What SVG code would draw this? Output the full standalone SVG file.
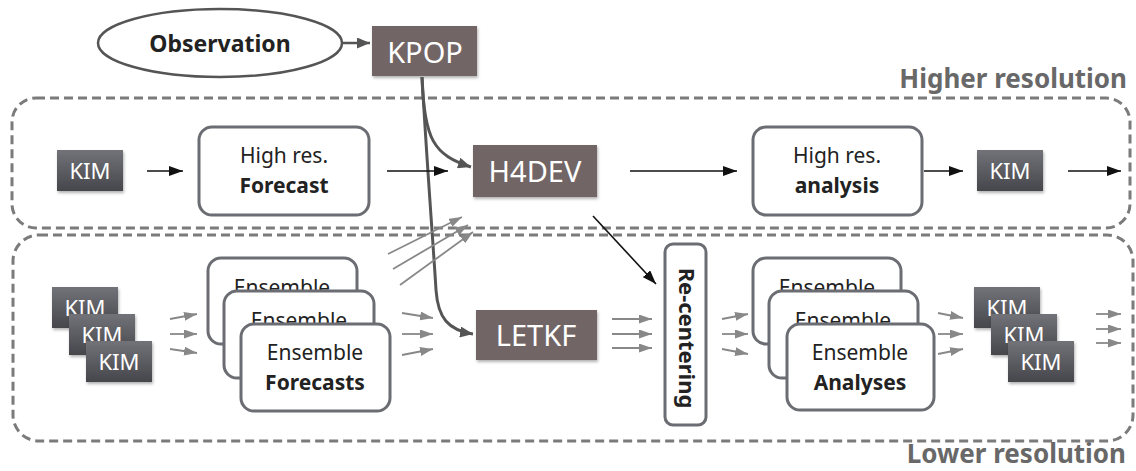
<svg xmlns="http://www.w3.org/2000/svg" width="1136" height="471" viewBox="0 0 1136 471">
<defs>
<style>
text{font-family:"Noto Sans","Open Sans","Liberation Sans",sans-serif;fill:#222;}
.b{font-weight:bold;}
.zone{fill:none;stroke:#7b7b7b;stroke-width:3;stroke-dasharray:9 5;}
.zl{font-size:26px;font-weight:bold;fill:#686868;text-anchor:end;}
.kim{fill:url(#kimg);filter:url(#sh);}
.kimt{font-size:22px;fill:#fff;text-anchor:middle;}
.brown{fill:#726565;filter:url(#sh);}
.brt{font-size:29px;fill:#fff;text-anchor:middle;}
.box{fill:#fff;stroke:#6b6d73;stroke-width:3;}
.bt{font-size:21px;text-anchor:middle;}
.blk{stroke:#111;stroke-width:1.6;fill:none;marker-end:url(#ab);}
.gry{stroke:#888;stroke-width:1.8;fill:none;marker-end:url(#ag);}
.cur{stroke:#555;stroke-width:3;fill:none;marker-end:url(#ac);}
</style>
<linearGradient id="kimg" x1="0" y1="0" x2="0" y2="1">
<stop offset="0" stop-color="#727379"/>
<stop offset="1" stop-color="#45464b"/>
</linearGradient>
<filter id="sh" x="-20%" y="-20%" width="140%" height="150%">
<feDropShadow dx="1" dy="2" stdDeviation="1.5" flood-color="#000" flood-opacity="0.3"/>
</filter>
<marker id="ab" markerUnits="userSpaceOnUse" markerWidth="14" markerHeight="10" refX="14" refY="5" orient="auto">
<path d="M0,0 L14,5 L0,10 z" fill="#111"/>
</marker>
<marker id="ag" markerUnits="userSpaceOnUse" markerWidth="13" markerHeight="9" refX="13" refY="4.5" orient="auto">
<path d="M0,0 L13,4.5 L0,9 z" fill="#888"/>
</marker>
<marker id="ac" markerUnits="userSpaceOnUse" markerWidth="13" markerHeight="11" refX="13" refY="5.5" orient="auto">
<path d="M0,0 L13,5.5 L0,11 z" fill="#555"/>
</marker>
</defs>
<rect width="1136" height="471" fill="#fff"/>

<g id="zones">
<rect class="zone" x="12" y="98" width="1118" height="130" rx="24"/>
<rect class="zone" x="13" y="235" width="1120" height="206" rx="26"/>
<text class="zl" x="1127" y="88">Higher resolution</text>
<text class="zl" x="1126" y="463">Lower resolution</text>
</g>

<g id="observation">
<ellipse cx="220" cy="43" rx="122" ry="34" fill="#fff" stroke="#555" stroke-width="2.5"/>
<text class="b" x="220" y="52" font-size="23" text-anchor="middle">Observation</text>
</g>

<g id="kpop">
<rect class="brown" x="372" y="26" width="105" height="50"/>
<text class="brt" x="425" y="63">KPOP</text>
</g>

<g id="kim-high-1">
<rect class="kim" x="57" y="150" width="66" height="41"/>
<text class="kimt" x="90" y="179">KIM</text>
</g>

<g id="hr-forecast">
<rect class="box" x="199" y="127" width="170" height="88" rx="13"/>
<text class="bt" x="284" y="163">High res.</text>
<text class="bt b" x="284" y="193">Forecast</text>
</g>

<g id="h4dev">
<rect class="brown" x="473" y="145" width="124" height="52"/>
<text class="brt" x="535" y="182">H4DEV</text>
</g>

<g id="hr-analysis">
<rect class="box" x="753" y="127" width="169" height="88" rx="13"/>
<text class="bt" x="837" y="163">High res.</text>
<text class="bt b" x="837" y="193">analysis</text>
</g>

<g id="kim-high-2">
<rect class="kim" x="977" y="150" width="66" height="41"/>
<text class="kimt" x="1010" y="179">KIM</text>
</g>

<g id="kim-ens-1">
<rect class="kim" x="52" y="287" width="66" height="41"/>
<text class="kimt" x="85" y="316">KIM</text>
<rect class="kim" x="69" y="314" width="66" height="41"/>
<text class="kimt" x="102" y="343">KIM</text>
<rect class="kim" x="86" y="341" width="66" height="41"/>
<text class="kimt" x="119" y="370">KIM</text>
</g>

<g id="ens-forecasts">
<rect class="box" x="208" y="258" width="149" height="86" rx="13"/>
<text class="bt" x="282" y="295" font-size="22">Ensemble</text>
<rect class="box" x="224" y="291" width="150" height="87" rx="13"/>
<text class="bt" x="299" y="328" font-size="22">Ensemble</text>
<rect class="box" x="241" y="324" width="149" height="87" rx="13"/>
<text class="bt" x="315" y="360">Ensemble</text>
<text class="bt b" x="315" y="390">Forecasts</text>
</g>

<g id="letkf">
<rect class="brown" x="476" y="310" width="121" height="50"/>
<text class="brt" x="536" y="346">LETKF</text>
</g>

<g id="recentering">
<rect class="box" x="665" y="244" width="41" height="181" rx="8"/>
<text class="b" transform="translate(686,338) rotate(90)" x="0" y="7" font-size="22" text-anchor="middle">Re-centering</text>
</g>

<g id="ens-analyses">
<rect class="box" x="753" y="258" width="148" height="86" rx="13"/>
<text class="bt" x="827" y="295" font-size="22">Ensemble</text>
<rect class="box" x="769" y="291" width="149" height="87" rx="13"/>
<text class="bt" x="843" y="328" font-size="22">Ensemble</text>
<rect class="box" x="787" y="324" width="147" height="86" rx="13"/>
<text class="bt" x="860" y="360">Ensemble</text>
<text class="bt b" x="860" y="390">Analyses</text>
</g>

<g id="kim-ens-2">
<rect class="kim" x="974" y="287" width="66" height="41"/>
<text class="kimt" x="1007" y="316">KIM</text>
<rect class="kim" x="991" y="314" width="66" height="41"/>
<text class="kimt" x="1024" y="343">KIM</text>
<rect class="kim" x="1008" y="341" width="66" height="41"/>
<text class="kimt" x="1041" y="370">KIM</text>
</g>

<g id="connectors">
<line x1="342" y1="43" x2="370" y2="43" stroke="#555" stroke-width="2.5" marker-end="url(#ac)"/>
<path class="cur" d="M422,77 C424,140 434,155 471,167"/>
<path class="cur" d="M422,77 C428,180 434,255 436,290 C438,318 448,330 473,334"/>
<line class="blk" x1="147" y1="171" x2="183" y2="171"/>
<line class="blk" x1="387" y1="171" x2="448" y2="171"/>
<line class="blk" x1="630" y1="171" x2="737" y2="171"/>
<line class="blk" x1="924" y1="171" x2="963" y2="171"/>
<line class="blk" x1="1068" y1="171" x2="1121" y2="171"/>
<line class="blk" x1="593" y1="216" x2="656" y2="284"/>
<line class="gry" x1="388" y1="254" x2="462" y2="217"/>
<line class="gry" x1="393" y1="269" x2="468" y2="225"/>
<line class="gry" x1="400" y1="285" x2="473" y2="232"/>
<line class="gry" x1="170" y1="319" x2="197" y2="314"/>
<line class="gry" x1="170" y1="334" x2="197" y2="334"/>
<line class="gry" x1="170" y1="349" x2="197" y2="353"/>
<line class="gry" x1="402" y1="313" x2="433" y2="318"/>
<line class="gry" x1="402" y1="334" x2="433" y2="334"/>
<line class="gry" x1="402" y1="355" x2="433" y2="349"/>
<line class="gry" x1="612" y1="319" x2="652" y2="319"/>
<line class="gry" x1="612" y1="334" x2="652" y2="334"/>
<line class="gry" x1="612" y1="348" x2="652" y2="348"/>
<line class="gry" x1="722" y1="319" x2="748" y2="314"/>
<line class="gry" x1="722" y1="334" x2="748" y2="334"/>
<line class="gry" x1="722" y1="349" x2="748" y2="354"/>
<line class="gry" x1="938" y1="313" x2="963" y2="318"/>
<line class="gry" x1="938" y1="334" x2="963" y2="334"/>
<line class="gry" x1="938" y1="354" x2="963" y2="349"/>
<line class="gry" x1="1096" y1="314" x2="1121" y2="314"/>
<line class="gry" x1="1096" y1="329" x2="1121" y2="329"/>
<line class="gry" x1="1096" y1="343" x2="1121" y2="343"/>
</g>
</svg>
